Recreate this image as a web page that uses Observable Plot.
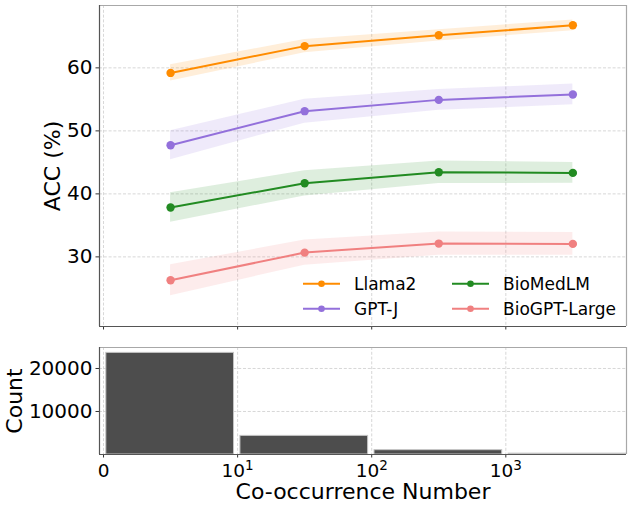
<!DOCTYPE html>
<html><head><meta charset="utf-8">
<script src="https://cdn.jsdelivr.net/npm/d3@7"></script>
<script src="https://cdn.jsdelivr.net/npm/@observablehq/plot@0.6"></script>
<style>
body{margin:0;background:#fff;font-family:"DejaVu Sans",sans-serif;}
#wrap{position:relative;width:631px;height:508px;overflow:hidden;}
#wrap > svg{display:block;}
#legend{position:absolute;left:0;top:0;}
</style></head><body><div id="wrap"></div>
<script>
// ---- data ----
const models = ["Llama2", "GPT-J", "BioMedLM", "BioGPT-Large"];
const colors = ["#ff8c00", "#9370db", "#228b22", "#f08080"];
const binCenters = [5, 31.62, 316.2, 3162];
const llama2 = [59.2, 63.45, 65.17, 66.76];
const gptj = [47.73, 53.13, 54.92, 55.78];
const biomedlm = [37.83, 41.68, 43.43, 43.33];
const biogpt = [26.29, 30.68, 32.11, 32.06];
const llama2Err = [1.3, 1.05, 0.9, 0.85];
const gptjErr = [2.3, 1.9, 1.65, 1.65];
const biomedlmErr = [2.33, 2.0, 1.8, 1.65];
const biogptErr = [2.45, 2.0, 1.85, 1.8];
const binEdges = [0, 10, 100, 1000, 10000];
const counts = [23630, 4330, 1000, 200];
const xTickValues = [0, 10, 100, 1000];
const xTickBases = ["0", "10", "10", "10"];
const xTickExps = ["", "1", "2", "3"];
const accTicks = [30, 40, 50, 60];
const countTicks = [10000, 20000];

// symlog-like transform: linear 0..10, log above
const f = v => v <= 10 ? v / 10 : Math.log10(v);
const xDomain = [-0.03, 3.9];
const accDomain = [18.95, 69.9];
const countDomain = [0, 24880];
const xTickPos = xTickValues.map(f);

const seriesVals = [llama2, gptj, biomedlm, biogpt];
const seriesErr = [llama2Err, gptjErr, biomedlmErr, biogptErr];
const accData = models.flatMap((m, i) => seriesVals[i].map((v, j) => ({
  model: m, x: f(binCenters[j]), y: v, lo: v - seriesErr[i][j], hi: v + seriesErr[i][j]
})));
const histData = counts.map((c, i) => ({x1: f(binEdges[i]), x2: f(binEdges[i + 1]), y: c}));

const gridStyle = {stroke: "#cdcdcd", strokeOpacity: 1, strokeWidth: 0.8, strokeDasharray: "3,1.8"};
const font = "DejaVu Sans";

const topChart = Plot.plot({
  width: 631, height: 340,
  marginLeft: 99, marginRight: 5, marginTop: 5, marginBottom: 14,
  style: {fontFamily: font, fontSize: "20px", background: "white", color: "#000", overflow: "visible"},
  x: {domain: xDomain},
  y: {domain: accDomain},
  color: {domain: models, range: colors},
  marks: [
    Plot.gridY(accTicks, gridStyle),
    Plot.gridX(xTickPos, gridStyle),
    Plot.areaY(accData, {x: "x", y1: "lo", y2: "hi", z: "model", fill: "model", fillOpacity: 0.15}),
    Plot.line(accData, {x: "x", y: "y", z: "model", stroke: "model", strokeWidth: 2}),
    Plot.dot(accData, {x: "x", y: "y", fill: "model", r: 4.2}),
    Plot.axisY(accTicks, {tickSize: 3.5, tickPadding: 3.5, fontSize: 20, label: null, stroke: "#333"}),
    Plot.axisX(xTickPos, {tickSize: 3.5, tickFormat: () => "", label: null, stroke: "#333"}),
    Plot.ruleY([accDomain[1]], {stroke: "#a8a8a8", strokeWidth: 1.2}),
    Plot.ruleX([xDomain[1]], {stroke: "#a8a8a8", strokeWidth: 1.2}),
    Plot.ruleY([accDomain[0]], {stroke: "#555", strokeWidth: 1.2}),
    Plot.ruleX([xDomain[0]], {stroke: "#555", strokeWidth: 1.2}),
    Plot.text(["ACC (%)"], {text: d => d, frameAnchor: "left", rotate: -90, dx: -47, lineAnchor: "middle", textAnchor: "middle", fontSize: 22, fill: "#000"})
  ]
});

const bottomChart = Plot.plot({
  width: 631, height: 168,
  marginLeft: 99, marginRight: 5, marginTop: 7, marginBottom: 54,
  style: {fontFamily: font, fontSize: "20px", background: "white", color: "#000", overflow: "visible"},
  x: {domain: xDomain},
  y: {domain: countDomain},
  marks: [
    Plot.gridY(countTicks, gridStyle),
    Plot.gridX(xTickPos, gridStyle),
    Plot.rectY(histData, {x1: "x1", x2: "x2", y: "y", fill: "#4d4d4d", stroke: "#c4c4c4", strokeWidth: 1, insetLeft: 2.8, insetRight: 3.6, clip: true}),
    Plot.axisY(countTicks, {tickSize: 3.5, tickPadding: 3.5, fontSize: 20, label: null, stroke: "#333", tickFormat: d => String(d)}),
    Plot.axisX(xTickPos, {tickSize: 3.5, tickPadding: 5.5, fontSize: 18.5, label: null, stroke: "#333",
      tickFormat: d => xTickBases[xTickPos.indexOf(d)] + "|" + xTickExps[xTickPos.indexOf(d)]}),
    Plot.ruleY([countDomain[1]], {stroke: "#a8a8a8", strokeWidth: 1.2}),
    Plot.ruleX([xDomain[1]], {stroke: "#a8a8a8", strokeWidth: 1.2}),
    Plot.ruleY([countDomain[0]], {stroke: "#555", strokeWidth: 1.2}),
    Plot.ruleX([xDomain[0]], {stroke: "#555", strokeWidth: 1.2}),
    Plot.text(["Count"], {text: d => d, frameAnchor: "left", rotate: -90, dx: -85, lineAnchor: "middle", textAnchor: "middle", fontSize: 22, fill: "#000"}),
    Plot.text(["Co-occurrence Number"], {text: d => d, frameAnchor: "bottom", dy: 28.5, lineAnchor: "top", textAnchor: "middle", fontSize: 22, fill: "#000"})
  ]
});

// turn "10|1" tick labels into base + superscript
d3.select(bottomChart).selectAll("text").each(function() {
  const t = this.textContent;
  if (t.includes("|")) {
    const [base, exp] = t.split("|");
    const el = d3.select(this);
    el.text(base);
    if (exp) el.append("tspan").attr("dy", "-7").attr("font-size", "13.5px").text(exp);
  }
});

const wrap = document.getElementById("wrap");
wrap.appendChild(topChart);
wrap.appendChild(bottomChart);

// legend overlay (2 columns)
const legend = d3.select(wrap).append("svg").attr("id", "legend")
  .attr("width", 631).attr("height", 340)
  .style("font-family", font).style("font-size", "17px");
const cols = [303, 452];
const rows = [283.7, 308.7];
const order = [[0, 0], [1, 0], [0, 1], [1, 1]]; // [row, col] for each model
models.forEach((m, i) => {
  const [r, c] = order[i];
  const g = legend.append("g").attr("transform", `translate(${cols[c]},${rows[r]})`);
  g.append("line").attr("x1", 0).attr("x2", 37).attr("y1", 0).attr("y2", 0)
    .attr("stroke", colors[i]).attr("stroke-width", 2);
  g.append("circle").attr("cx", 18.5).attr("cy", 0).attr("r", 3.3).attr("fill", colors[i]);
  g.append("text").attr("x", 51).attr("y", 0).attr("dy", "0.35em").text(m).attr("fill", "#000");
});
</script>
</body></html>
